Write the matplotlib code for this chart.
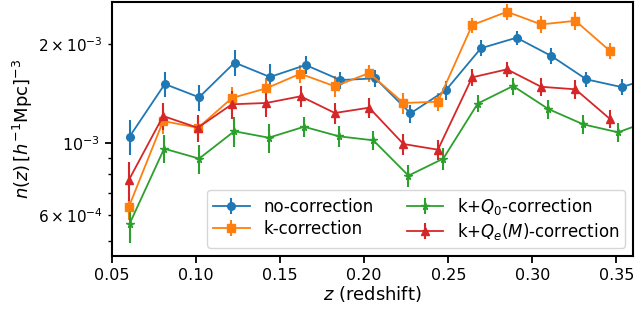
import matplotlib

matplotlib.use("Agg")
import matplotlib.pyplot as plt

# redshift bin centres (each sample has slightly shifted mean z)
z_noc = [0.0604, 0.0814, 0.1018, 0.1229, 0.1439, 0.1652, 0.1858, 0.2066,
         0.2275, 0.2486, 0.2694, 0.2906, 0.3113, 0.3321, 0.3530, 0.3739]
n_noc = [1.043, 1.512, 1.377, 1.759, 1.589, 1.729, 1.555, 1.574,
         1.230, 1.449, 1.946, 2.096, 1.842, 1.563, 1.480, 1.594]
e_noc = [0.128, 0.133, 0.123, 0.161, 0.153, 0.110, 0.093, 0.096,
         0.078, 0.097, 0.110, 0.106, 0.101, 0.086, 0.083, 0.090]

z_k = [0.0599, 0.0804, 0.1012, 0.1213, 0.1417, 0.1620, 0.1825, 0.2029,
       0.2233, 0.2438, 0.2642, 0.2849, 0.3052, 0.3256, 0.3460]
n_k = [0.634, 1.165, 1.111, 1.370, 1.467, 1.626, 1.488, 1.634,
       1.323, 1.335, 2.291, 2.516, 2.302, 2.361, 1.912]
e_k = [0.054, 0.100, 0.094, 0.116, 0.114, 0.103, 0.112, 0.096,
       0.096, 0.085, 0.124, 0.136, 0.135, 0.146, 0.108]

z_q0 = [0.0604, 0.0810, 0.1018, 0.1227, 0.1432, 0.1642, 0.1850, 0.2054,
        0.2263, 0.2470, 0.2675, 0.2885, 0.3095, 0.3303, 0.3510, 0.3718]
n_q0 = [0.564, 0.959, 0.894, 1.084, 1.036, 1.119, 1.046, 1.017,
        0.793, 0.894, 1.318, 1.491, 1.268, 1.138, 1.076, 1.178]
e_q0 = [0.072, 0.095, 0.091, 0.115, 0.107, 0.078, 0.076, 0.070,
        0.060, 0.068, 0.077, 0.091, 0.085, 0.076, 0.072, 0.075]

z_qe = [0.0599, 0.0804, 0.1010, 0.1213, 0.1417, 0.1622, 0.1825, 0.2029,
        0.2233, 0.2438, 0.2642, 0.2849, 0.3052, 0.3256, 0.3460]
n_qe = [0.767, 1.207, 1.111, 1.311, 1.323, 1.387, 1.233, 1.280,
        0.991, 0.952, 1.585, 1.677, 1.483, 1.457, 1.184]
e_qe = [0.104, 0.117, 0.108, 0.129, 0.128, 0.101, 0.089, 0.088,
        0.073, 0.065, 0.098, 0.092, 0.097, 0.094, 0.073]

series = [
    (z_noc, n_noc, e_noc, "tab:blue", "o", 5.5, "no-correction"),
    (z_k, n_k, e_k, "tab:orange", "s", 5.5, "k-correction"),
    (z_q0, n_q0, e_q0, "tab:green", "*", 5.5, r"k+$Q_0$-correction"),
    (z_qe, n_qe, e_qe, "tab:red", "^", 5.5, r"k+$Q_e(M)$-correction"),
]

plt.rcParams["font.size"] = 11
plt.rcParams["axes.linewidth"] = 1.5

fig, ax = plt.subplots(figsize=(6.35, 3.13), dpi=100)
fig.subplots_adjust(left=0.1764, right=0.9973, top=0.9927, bottom=0.182)

for z, n, e, color, marker, ms, label in series:
    ax.errorbar(z, [v * 1e-3 for v in n], yerr=[v * 1e-3 for v in e],
                color=color, marker=marker, ms=ms, lw=1.3, elinewidth=1.5,
                label=label)

ax.set_yscale("log")
ax.set_xlim(0.05, 0.36)
ax.set_ylim(4.5e-4, 2.69e-3)
ax.tick_params(which="major", length=5, width=1.3, labelsize=11.5)
ax.tick_params(which="minor", length=3, width=1.0)
ax.set_xlabel(r"$z$ (redshift)", fontsize=13, labelpad=1)
ax.set_ylabel(r"$n(z)\,[h^{-1}{\rm Mpc}]^{-3}$", fontsize=13, labelpad=2)
ax.legend(ncol=2, loc="lower right", fontsize=12, handlelength=2.2,
          columnspacing=2.0, borderpad=0.35, labelspacing=0.25,
          borderaxespad=0.5)

fig.savefig("out.png", dpi=100)
